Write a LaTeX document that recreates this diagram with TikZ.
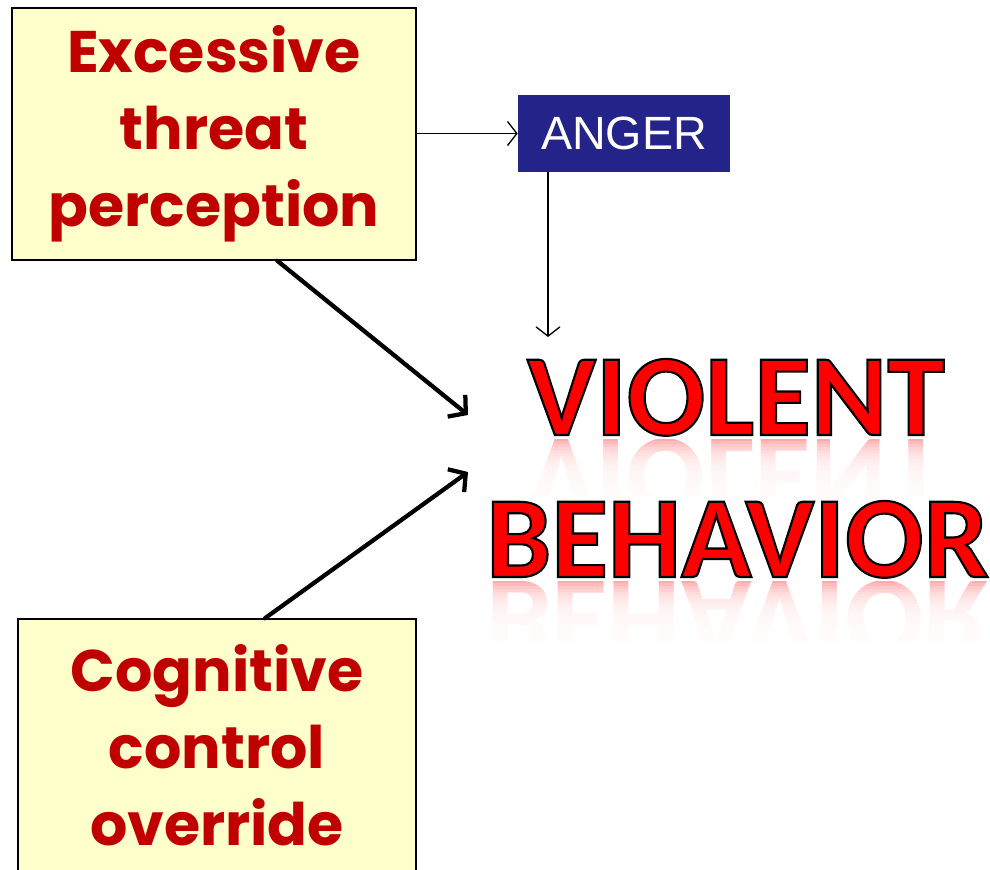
\documentclass[tikz,border=0pt]{standalone}
\usepackage{fontspec}
\setmainfont{Liberation Sans}
\newfontfamily\boxfont{Poppins}
\newfontfamily\bigfont{Carlito}
\newfontfamily\angerfont{Liberation Sans}
\usetikzlibrary{arrows.meta,calc}
\definecolor{boxyellow}{HTML}{FFFFCC}
\definecolor{boxred}{HTML}{C00000}
\definecolor{angerblue}{HTML}{232389}
\definecolor{vred}{HTML}{FF0000}
\newcommand\outlinedtext[1]{\special{pdf:literal direct 2 Tr 1.6 w 0 0 0 RG}#1\special{pdf:literal direct 0 Tr}}
\tikzset{
  causebox/.style={draw=black, line width=1.1pt, fill=boxyellow, inner sep=0pt,
    minimum width=#1, align=center, text=boxred,
    font=\boxfont\bfseries\fontsize{44}{57.75}\selectfont},
  angerbox/.style={fill=angerblue, text=white, inner sep=0pt, minimum width=159pt, minimum height=57.75pt,
    font=\angerfont\fontsize{35}{40}\selectfont},
  bigword/.style={anchor=base, inner sep=0pt, text=vred, font=\bigfont\bfseries\fontsize{87}{90}\selectfont},
  reflword/.style={bigword, transform shape, text opacity=0.33},
  fadestrip/.style={fill=white, fill opacity=0.2, draw=none},
  thinarrow/.style={line width=1pt, -{Straight Barb[length=7pt,width=18pt]}},
  thickarrow/.style={line width=3.2pt, -{Straight Barb[length=9pt,width=21pt]}, line cap=round}
}
\begin{document}
\begin{tikzpicture}[x=0.75pt,y=-0.75pt]
\clip (0,0) rectangle (990,869);
\fill[white] (0,0) rectangle (990,869);
% boxes
\node[causebox=303pt, minimum height=189pt] (top) at (214,134) {Excessive\\threat\\perception};
\node[causebox=298.5pt, minimum height=189pt] (bot) at (217,745) {Cognitive\\control\\override};
\node[angerbox] (anger) at (624,133.5) {ANGER};
% reflections
\begin{scope}
  \clip (480,439) rectangle (990,495);
  \begin{scope}[shift={(736,439)},yscale=-1]
    \node[reflword] (violentrefl) at (0,0) {VIOLENT};
  \end{scope}
\end{scope}
\foreach \i in {0,...,15} {
  \fill[fadestrip] (480,{441+3*\i}) rectangle (990,496);
}
\begin{scope}
  \clip (480,581) rectangle (990,640);
  \begin{scope}[shift={(737.5,581)},yscale=-1]
    \node[reflword] (behaviorrefl) at (0,0) {BEHAVIOR};
  \end{scope}
\end{scope}
\foreach \i in {0,...,15} {
  \fill[fadestrip] (480,{583+3*\i}) rectangle (990,641);
}
% big words
\node[bigword] (violent) at (736,435) {\outlinedtext{VIOLENT}};
\node[bigword] (behavior) at (737.5,577) {\outlinedtext{BEHAVIOR}};
% connectors
\coordinate (angtip) at (548,337);
\coordinate (vtip1) at (468,415);
\coordinate (vtip2) at (468,472);
\draw[thinarrow] (top.east |- anger.west) -- (anger.west);
\draw[thinarrow] (anger.south west -| angtip) -- (angtip);
\draw[thickarrow] ($(top.south west)!0.656!(top.south east)$) -- (vtip1);
\draw[thickarrow] ($(bot.north west)!0.62!(bot.north east)$) -- (vtip2);
\end{tikzpicture}
\end{document}
